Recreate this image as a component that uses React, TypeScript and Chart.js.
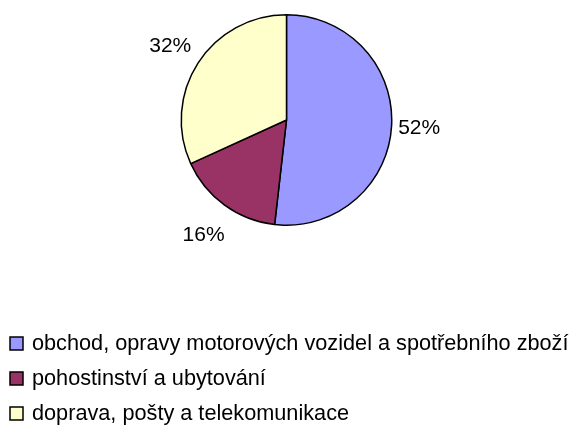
import React, { useEffect, useRef } from "react";
import { Chart, registerables } from "chart.js";

Chart.register(...registerables);

const categories = [
  "obchod, opravy motorových vozidel a spotřebního zboží",
  "pohostinství a ubytování",
  "doprava, pošty a telekomunikace",
];
const values = [51.8, 16.4, 31.8];
const colors = ["#9999FF", "#993366", "#FFFFCC"];

const FONT = "Arial, 'Liberation Sans', sans-serif";

const labelPlugin = {
  id: "outLabels",
  afterDatasetsDraw(chart: any) {
    const ctx = chart.ctx;
    const meta = chart.getDatasetMeta(0);
    const data = chart.data.datasets[0].data as number[];
    const total = data.reduce((a, b) => a + b, 0);
    ctx.save();
    ctx.font = `21px ${FONT}`;
    ctx.fillStyle = "#000";
    ctx.textAlign = "center";
    ctx.textBaseline = "middle";
    meta.data.forEach((arc: any, i: number) => {
      const { x, y, startAngle, endAngle, outerRadius } = arc.getProps(
        ["x", "y", "startAngle", "endAngle", "outerRadius"],
        true
      );
      const mid = (startAngle + endAngle) / 2;
      const txt = Math.round((data[i] / total) * 100) + "%";
      const d = outerRadius + 27 + 11 * Math.abs(Math.sin(mid));
      ctx.fillText(txt, x + Math.cos(mid) * d, y + Math.sin(mid) * d + 1);
    });
    ctx.restore();
  },
};

const legendPlugin = {
  id: "customLegend",
  afterDraw(chart: any) {
    const ctx = chart.ctx;
    const labels = chart.data.labels as string[];
    const ds = chart.data.datasets[0];
    ctx.save();
    ctx.font = `21.7px ${FONT}`;
    ctx.textBaseline = "middle";
    ctx.textAlign = "left";
    labels.forEach((lab, i) => {
      const yc = 343.5 + i * 35;
      ctx.fillStyle = ds.backgroundColor[i];
      ctx.fillRect(10, yc - 6.5, 13, 13);
      ctx.strokeStyle = "#000";
      ctx.lineWidth = 1.5;
      ctx.strokeRect(10, yc - 6.5, 13, 13);
      ctx.fillStyle = "#000";
      ctx.fillText(lab, 32, yc + 1);
    });
    ctx.restore();
  },
};

export default function App() {
  const ref = useRef<HTMLCanvasElement>(null);
  useEffect(() => {
    document.body.style.margin = "0";
    const chart = new Chart(ref.current!, {
      type: "pie",
      data: {
        labels: categories,
        datasets: [
          {
            data: values,
            backgroundColor: colors,
            borderColor: "#000",
            borderWidth: 1.5,
          },
        ],
      },
      options: {
        responsive: false,
        animation: false,
        layout: { padding: { left: 180, right: 181, top: 14, bottom: 201 } },
        plugins: {
          legend: { display: false },
          tooltip: { enabled: false },
        },
      },
      plugins: [labelPlugin, legendPlugin],
    });
    return () => chart.destroy();
  }, []);
  return (
    <div style={{ position: "fixed", left: 0, top: 0, width: 574, height: 427, background: "#fff" }}>
      <canvas ref={ref} width={574} height={427} />
    </div>
  );
}
